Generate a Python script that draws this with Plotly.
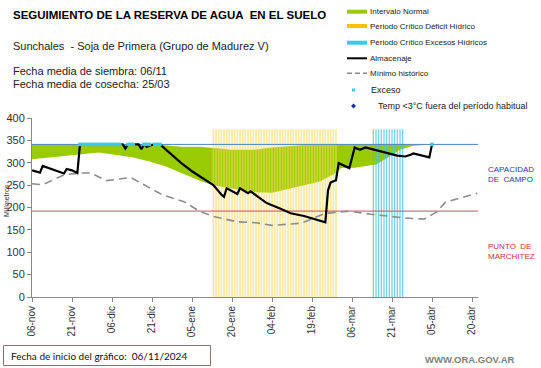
import plotly.graph_objects as go
import pandas as pd

# ---------------- data ----------------
alm_dates = ["2024-11-06","2024-11-09","2024-11-10","2024-11-18","2024-11-19","2024-11-21","2024-11-23",
             "2024-11-24","2024-12-10","2024-12-11","2024-12-12","2024-12-16","2024-12-17","2024-12-18",
             "2024-12-19","2024-12-21","2024-12-24","2024-12-29","2025-01-01","2025-01-05","2025-01-13",
             "2025-01-16","2025-01-17","2025-01-18","2025-01-22","2025-01-23","2025-01-26","2025-01-27",
             "2025-02-02","2025-02-07","2025-02-11","2025-02-16","2025-02-23","2025-02-24","2025-02-25",
             "2025-02-26","2025-02-28","2025-03-01","2025-03-05","2025-03-07","2025-03-09","2025-03-11",
             "2025-03-23","2025-03-26","2025-03-28","2025-03-29","2025-04-04","2025-04-05"]
alm_values = [283, 278, 293, 276, 286, 283, 277,
              341, 341, 332, 341, 341, 330, 341,
              336, 340, 341, 314, 299, 281, 250,
              229, 224, 243, 230, 243, 232, 236,
              210, 198, 187, 181, 168, 167, 238,
              256, 261, 299, 288, 334, 329, 334,
              316, 314, 318, 321, 312, 341]

min_dates = ["2024-11-06","2024-11-10","2024-11-18","2024-11-24","2024-11-28","2024-12-04","2024-12-13",
             "2024-12-19","2024-12-25","2025-01-02","2025-01-08","2025-01-13","2025-01-22","2025-01-29",
             "2025-02-04","2025-02-15","2025-02-24","2025-03-05","2025-03-13","2025-03-25","2025-04-02",
             "2025-04-07","2025-04-10","2025-04-22"]
min_values = [253, 251, 273, 277, 277, 260, 267,
              247, 228, 213, 191, 180, 168, 166,
              160, 165, 187, 192, 185, 177, 174,
              191, 212, 232]

band_dates = ["2024-11-06","2024-11-19","2024-12-01","2024-12-07","2024-12-14","2024-12-20","2024-12-26",
              "2025-01-01","2025-01-08","2025-01-13","2025-01-20","2025-01-28","2025-02-04","2025-02-15",
              "2025-02-22","2025-02-28","2025-03-02","2025-03-07","2025-03-15","2025-03-19","2025-03-24",
              "2025-03-29","2025-04-03","2025-04-05"]
band_lower = [308, 316, 323, 318, 312, 303, 292,
              277, 260, 250, 243, 234, 233, 249,
              258, 277, 288, 289, 296, 310, 329,
              338, 341, 341]
band_upper = [341, 341, 341, 341, 341, 341, 339,
              336, 336, 333, 329, 329, 334, 339,
              340, 341, 341, 341, 341, 341, 341,
              341, 341, 341]

exceso_dates = [d.strftime("%Y-%m-%d") for d in pd.date_range("2024-11-24", "2024-12-09")] + \
               ["2024-12-12", "2024-12-13", "2024-12-14", "2024-12-18", "2024-12-19", "2024-12-20",
                "2024-12-22", "2024-12-23", "2024-12-24", "2025-04-05"]
exceso_values = [341] * len(exceso_dates)

deficit_days = [d.strftime("%Y-%m-%d") for d in pd.date_range("2025-01-13", "2025-02-28")]
excesos_days = [d.strftime("%Y-%m-%d") for d in pd.date_range("2025-03-14", "2025-03-25")]
critical_top = 375

capacidad = 341
marchitez = 192

x_start, x_end = "2024-11-06", "2025-04-22 06:00"
tick_dates = [d.strftime("%Y-%m-%d") for d in pd.date_range("2024-11-06", periods=12, freq="15D")]
tick_text = ["06-nov", "21-nov", "06-dic", "21-dic", "05-ene", "20-ene",
             "04-feb", "19-feb", "06-mar", "21-mar", "05-abr", "20-abr"]

# ---------------- figure ----------------
W, H = 541, 368
L, R, T, B = 32, 63, 118, 71
PW, PH = W - L - R, H - T - B
def px(x): return (x - L) / PW
def py(y): return (H - B - y) / PH

FONT = "Liberation Sans, Arial, sans-serif"
GREEN = "#99CC00"

fig = go.Figure()

# normal interval band
fig.add_trace(go.Scatter(x=band_dates, y=band_lower, mode="lines", line=dict(width=0, color=GREEN),
                         showlegend=False, hoverinfo="skip"))
fig.add_trace(go.Scatter(x=band_dates, y=band_upper, mode="lines", fill="tonexty", fillcolor=GREEN,
                         line=dict(width=0, color=GREEN), showlegend=False, hoverinfo="skip"))

# critical period stripes
def stripes(days):
    xs, ys = [], []
    for d in days:
        xs += [d, d, None]
        ys += [0, critical_top, None]
    return xs, ys

xs, ys = stripes(deficit_days)
fig.add_trace(go.Scatter(x=xs, y=ys, mode="lines", line=dict(color="rgba(243,218,95,0.6)", width=1.7),
                         showlegend=False, hoverinfo="skip"))
xs, ys = stripes(excesos_days)
fig.add_trace(go.Scatter(x=xs, y=ys, mode="lines", line=dict(color="rgba(60,192,226,0.7)", width=1.3),
                         showlegend=False, hoverinfo="skip"))

# reference lines
fig.add_trace(go.Scatter(x=[x_start, x_end], y=[capacidad, capacidad], mode="lines",
                         line=dict(color="#4F81BD", width=1), showlegend=False, hoverinfo="skip"))
fig.add_trace(go.Scatter(x=[x_start, x_end], y=[marchitez, marchitez], mode="lines",
                         line=dict(color="#C8505A", width=1), showlegend=False, hoverinfo="skip"))

# minimo historico
fig.add_trace(go.Scatter(x=min_dates, y=min_values, mode="lines",
                         line=dict(color="#8C8C8C", width=1.6, dash="8px,5px"), showlegend=False))
# almacenaje
fig.add_trace(go.Scatter(x=alm_dates, y=alm_values, mode="lines",
                         line=dict(color="black", width=2.2), showlegend=False))
# exceso markers
fig.add_trace(go.Scatter(x=exceso_dates, y=exceso_values, mode="markers",
                         marker=dict(color="#33CCEE", size=3.5, symbol="square"), showlegend=False))

shapes = []
annotations = []

def note(x, y, text, size, color="#222", family=FONT, xanchor="left", **kw):
    d = dict(x=px(x), y=py(y), xref="paper", yref="paper", text=text, showarrow=False,
             xanchor=xanchor, yanchor="middle", borderpad=0,
             font=dict(family=family, size=size, color=color))
    d.update(kw)
    annotations.append(d)

# legend (manual)
leg_items = [
    ("Intervalo Normal", "bar", GREEN, 11.7, 8),
    ("Periodo Crítico Déficit Hídrico", "bar", "#FFC000", 26, 8),
    ("Periodo Crítico Excesos Hídricos", "bar", "#33CCF5", 42.7, 8),
    ("Almacenaje", "line", "black", 58.3, 8),
    ("Mínimo histórico", "dash", "#8C8C8C", 73.3, 8),
    ("Exceso", "dot", "#33CCEE", 90, 9),
    ("Temp <3°C fuera del período habitual", "diamond", "#1F2F9F", 106, 9),
]
for text, kind, col, yc, fs in leg_items:
    tx = 369
    if kind == "bar":
        shapes.append(dict(type="rect", xref="paper", yref="paper", x0=px(347), x1=px(367),
                           y0=py(yc + 2), y1=py(yc - 2), fillcolor=col, line=dict(width=0)))
    elif kind == "line":
        shapes.append(dict(type="line", xref="paper", yref="paper", x0=px(347), x1=px(367),
                           y0=py(yc), y1=py(yc), line=dict(color=col, width=2)))
    elif kind == "dash":
        shapes.append(dict(type="line", xref="paper", yref="paper", x0=px(347), x1=px(367),
                           y0=py(yc), y1=py(yc), line=dict(color=col, width=1.5, dash="5px,3px")))
    elif kind == "dot":
        shapes.append(dict(type="rect", xref="paper", yref="paper", x0=px(352), x1=px(355),
                           y0=py(yc + 1.5), y1=py(yc - 1.5), fillcolor=col, line=dict(width=0)))
        tx = 370
    else:
        cx = 353.5
        path = "M {} {} L {} {} L {} {} L {} {} Z".format(px(cx - 2.5), py(yc), px(cx), py(yc - 2.5),
                                                          px(cx + 2.5), py(yc), px(cx), py(yc + 2.5))
        shapes.append(dict(type="path", xref="paper", yref="paper", path=path, fillcolor=col,
                           line=dict(width=0)))
        tx = 377
    note(tx, yc, text, fs)

# titles
note(12, 15, "<b>SEGUIMIENTO DE LA RESERVA DE AGUA  EN EL SUELO</b>", 11.5, color="black")
note(12, 46, "Sunchales  - Soja de Primera (Grupo de Madurez V)", 11)
note(12, 71.5, "Fecha media de siembra: 06/11", 11)
note(12, 84.5, "Fecha media de cosecha: 25/03", 11)

note(487, 174.5, "CAPACIDAD<br>DE  CAMPO", 8, color="#3333BB", align="left")
note(487, 251, "PUNTO  DE<br>MARCHITEZ", 8, color="#CC3333", align="left")
note(6, 201, "Milímetros", 7, color="#333", xanchor="center", textangle=-90)
note(10, 356, "Fecha de inicio del gráfico:  06/11/2024", 10, color="#111",
     family="Lato, Open Sans, sans-serif")
note(516, 359, "<b>WWW.ORA.GOV.AR</b>", 9.5, color="#7F7F7F", xanchor="right")

shapes.append(dict(type="rect", xref="paper", yref="paper", x0=px(3.5), x1=px(210.5),
                   y0=py(365.5), y1=py(345.5), line=dict(color="#8A7070", width=1)))

fig.update_layout(
    width=W, height=H, margin=dict(l=L, r=R, t=T, b=B, autoexpand=False),
    paper_bgcolor="white", plot_bgcolor="white",
    shapes=shapes, annotations=annotations, showlegend=False,
    xaxis=dict(type="date", range=[x_start, x_end], tickvals=tick_dates, ticktext=tick_text,
               tickangle=-90, showgrid=False, zeroline=False, showline=True, linecolor="#888",
               linewidth=1, ticks="outside", ticklen=4, tickcolor="#888", automargin=False,
               tickfont=dict(family=FONT, size=10, color="#333")),
    yaxis=dict(range=[0, 400], dtick=50, showgrid=False, zeroline=False, showline=True,
               linecolor="#888", linewidth=1, ticks="outside", ticklen=4, tickcolor="#888",
               automargin=False, tickfont=dict(family=FONT, size=11, color="#333")),
)

fig.write_html("out.html", config={"displayModeBar": False},
               post_script="document.body.style.margin='0';document.body.style.overflow='hidden';")
